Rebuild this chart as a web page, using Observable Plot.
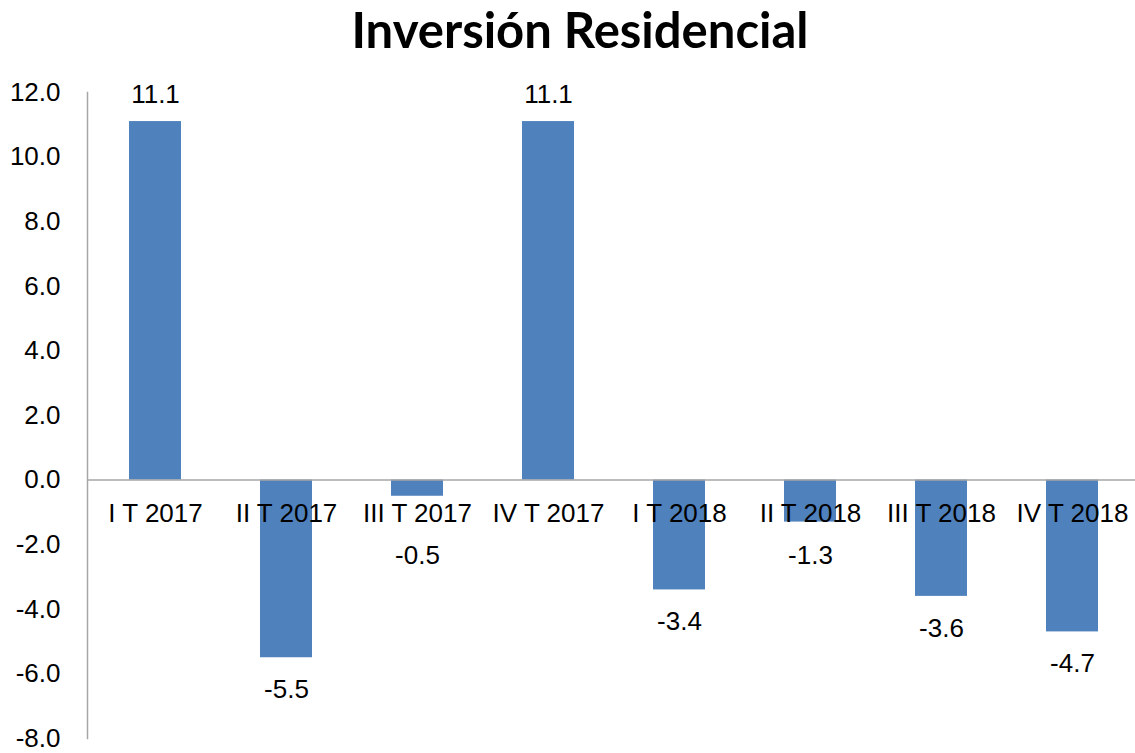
<!DOCTYPE html>
<html>
<head>
<meta charset="utf-8">
<script src="https://cdn.jsdelivr.net/npm/d3@7"></script>
<script src="https://cdn.jsdelivr.net/npm/@observablehq/plot@0.6"></script>
<style>
  html, body { margin: 0; padding: 0; background: #fff; }
  #title { height: 70px; line-height: 58px; text-align: center; font-family: Lato, "Noto Sans", sans-serif; font-weight: 700; font-size: 49px; color: #000; padding-left: 25px; box-sizing: border-box; }
  svg { display: block; }
</style>
</head>
<body>
<div id="title">Inversión Residencial</div>
<div id="chart"></div>
<script>
const categories = ["I T 2017", "II T 2017", "III T 2017", "IV T 2017", "I T 2018", "II T 2018", "III T 2018", "IV T 2018"];
const values = [11.1, -5.5, -0.5, 11.1, -3.4, -1.3, -3.6, -4.7];
const yTicks = [-8, -6, -4, -2, 0, 2, 4, 6, 8, 10, 12];

const data = categories.map((c, i) => ({cat: c, v: values[i]}));
const font = '"Liberation Sans", Arial, sans-serif';

const chart = Plot.plot({
  width: 1135,
  height: 683,
  marginLeft: 87,
  marginRight: 0,
  marginTop: 22,
  marginBottom: 15,
  style: {fontFamily: font, fontSize: "26px", color: "#000", background: "#fff", overflow: "visible"},
  x: {domain: categories, range: [87, 1140], paddingInner: 0.6, paddingOuter: 0.3, axis: null},
  y: {domain: [-8, 12], ticks: yTicks, tickFormat: d => d.toFixed(1), tickSize: 0, tickPadding: 27, label: null},
  marks: [
    Plot.barY(data, {x: "cat", y: "v", fill: "#4f81bd"}),
    Plot.ruleY([0], {stroke: "#a6a6a6", strokeWidth: 1.5}),
    Plot.frame({anchor: "left", stroke: "#a6a6a6", strokeWidth: 1.5}),
    Plot.text(data, {x: "cat", y: () => 0, text: "cat", dy: 34, fontSize: 26, fill: "#000"}),
    Plot.text(data.filter(d => d.v >= 0), {x: "cat", y: "v", text: d => d.v.toFixed(1), dy: -27, fontSize: 26, fill: "#000"}),
    Plot.text(data.filter(d => d.v < 0), {x: "cat", y: d => Math.min(d.v, -1.35), text: d => d.v.toFixed(1), dy: 32, fontSize: 26, fill: "#000"})
  ]
});
document.getElementById("chart").appendChild(chart);
</script>
</body>
</html>
